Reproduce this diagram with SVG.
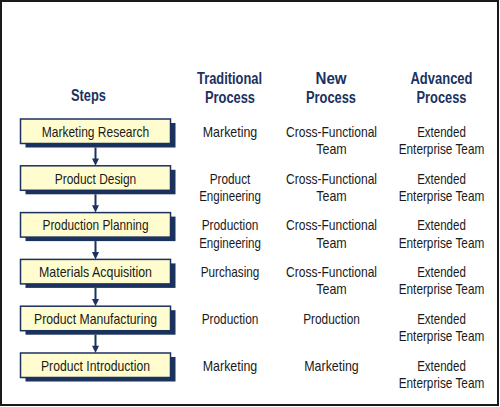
<svg xmlns="http://www.w3.org/2000/svg" width="500" height="407" viewBox="0 0 500 407">
<defs>
<style>
.frame{fill:#ffffff;stroke:#1a1a1a;stroke-width:2}
.shadow{fill:#1b325f}
.box{fill:#fffdcf;stroke:#1b325f;stroke-width:1.5}
.hdr{font-family:"Liberation Sans",Arial,sans-serif;font-weight:bold;font-size:16px;fill:#1b325f;text-anchor:middle}
.lbl{font-family:"Liberation Sans",Arial,sans-serif;font-size:15px;fill:#1a1a1a;text-anchor:middle}
.conn{stroke:#1b325f;stroke-width:2;fill:none}
.head{fill:#1b325f}
</style>
</defs>
<rect class="frame" x="1" y="1" width="497" height="404"/>

<g id="headers">
<text class="hdr" x="88.5" y="101" textLength="35" lengthAdjust="spacingAndGlyphs">Steps</text>
<text class="hdr" x="229.5" y="83.5" textLength="65" lengthAdjust="spacingAndGlyphs">Traditional</text>
<text class="hdr" x="230" y="102.5" textLength="50" lengthAdjust="spacingAndGlyphs">Process</text>
<text class="hdr" x="331" y="83.5" textLength="31" lengthAdjust="spacingAndGlyphs">New</text>
<text class="hdr" x="331" y="102.5" textLength="50" lengthAdjust="spacingAndGlyphs">Process</text>
<text class="hdr" x="441.5" y="83.5" textLength="62" lengthAdjust="spacingAndGlyphs">Advanced</text>
<text class="hdr" x="441.5" y="102.5" textLength="50" lengthAdjust="spacingAndGlyphs">Process</text>
</g>

<g id="connectors">
<line class="conn" x1="95.5" y1="147.5" x2="95.5" y2="159"/>
<polygon class="head" points="92,158.5 99,158.5 95.5,165.8"/>
<line class="conn" x1="95.5" y1="194.3" x2="95.5" y2="205.8"/>
<polygon class="head" points="92,205.3 99,205.3 95.5,212.6"/>
<line class="conn" x1="95.5" y1="241.1" x2="95.5" y2="252.6"/>
<polygon class="head" points="92,252.1 99,252.1 95.5,259.4"/>
<line class="conn" x1="95.5" y1="287.9" x2="95.5" y2="299.4"/>
<polygon class="head" points="92,298.9 99,298.9 95.5,306.2"/>
<line class="conn" x1="95.5" y1="334.7" x2="95.5" y2="346.2"/>
<polygon class="head" points="92,345.7 99,345.7 95.5,353"/>
</g>

<g id="step1">
<rect class="shadow" x="25.5" y="123" width="150" height="24.5"/>
<rect class="box" x="20.5" y="119" width="150" height="24.5"/>
<text class="lbl" x="95.5" y="136.7" textLength="107.5" lengthAdjust="spacingAndGlyphs">Marketing Research</text>
</g>
<g id="step2">
<rect class="shadow" x="25.5" y="169.8" width="150" height="24.5"/>
<rect class="box" x="20.5" y="165.8" width="150" height="24.5"/>
<text class="lbl" x="95.5" y="183.5" textLength="81.5" lengthAdjust="spacingAndGlyphs">Product Design</text>
</g>
<g id="step3">
<rect class="shadow" x="25.5" y="216.6" width="150" height="24.5"/>
<rect class="box" x="20.5" y="212.6" width="150" height="24.5"/>
<text class="lbl" x="95.5" y="230.3" textLength="106" lengthAdjust="spacingAndGlyphs">Production Planning</text>
</g>
<g id="step4">
<rect class="shadow" x="25.5" y="263.4" width="150" height="24.5"/>
<rect class="box" x="20.5" y="259.4" width="150" height="24.5"/>
<text class="lbl" x="95.5" y="277.1" textLength="113" lengthAdjust="spacingAndGlyphs">Materials Acquisition</text>
</g>
<g id="step5">
<rect class="shadow" x="25.5" y="310.2" width="150" height="24.5"/>
<rect class="box" x="20.5" y="306.2" width="150" height="24.5"/>
<text class="lbl" x="95.5" y="323.9" textLength="123" lengthAdjust="spacingAndGlyphs">Product Manufacturing</text>
</g>
<g id="step6">
<rect class="shadow" x="25.5" y="357" width="150" height="24.5"/>
<rect class="box" x="20.5" y="353" width="150" height="24.5"/>
<text class="lbl" x="95.5" y="370.7" textLength="109" lengthAdjust="spacingAndGlyphs">Product Introduction</text>
</g>

<g id="traditional">
<text class="lbl" x="230" y="136.7" textLength="54.5" lengthAdjust="spacingAndGlyphs">Marketing</text>
<text class="lbl" x="230" y="183.5" textLength="40.7" lengthAdjust="spacingAndGlyphs">Product</text>
<text class="lbl" x="230" y="200.8" textLength="61.7" lengthAdjust="spacingAndGlyphs">Engineering</text>
<text class="lbl" x="230" y="230.3" textLength="56.7" lengthAdjust="spacingAndGlyphs">Production</text>
<text class="lbl" x="230" y="247.6" textLength="61.7" lengthAdjust="spacingAndGlyphs">Engineering</text>
<text class="lbl" x="230" y="277.1" textLength="58.7" lengthAdjust="spacingAndGlyphs">Purchasing</text>
<text class="lbl" x="230" y="323.9" textLength="56.7" lengthAdjust="spacingAndGlyphs">Production</text>
<text class="lbl" x="230" y="370.7" textLength="54.5" lengthAdjust="spacingAndGlyphs">Marketing</text>
</g>

<g id="new">
<text class="lbl" x="331.5" y="136.7" textLength="91" lengthAdjust="spacingAndGlyphs">Cross-Functional</text>
<text class="lbl" x="331.5" y="154" textLength="30.5" lengthAdjust="spacingAndGlyphs">Team</text>
<text class="lbl" x="331.5" y="183.5" textLength="91" lengthAdjust="spacingAndGlyphs">Cross-Functional</text>
<text class="lbl" x="331.5" y="200.8" textLength="30.5" lengthAdjust="spacingAndGlyphs">Team</text>
<text class="lbl" x="331.5" y="230.3" textLength="91" lengthAdjust="spacingAndGlyphs">Cross-Functional</text>
<text class="lbl" x="331.5" y="247.6" textLength="30.5" lengthAdjust="spacingAndGlyphs">Team</text>
<text class="lbl" x="331.5" y="277.1" textLength="91" lengthAdjust="spacingAndGlyphs">Cross-Functional</text>
<text class="lbl" x="331.5" y="294.4" textLength="30.5" lengthAdjust="spacingAndGlyphs">Team</text>
<text class="lbl" x="331.5" y="323.9" textLength="56.7" lengthAdjust="spacingAndGlyphs">Production</text>
<text class="lbl" x="331.5" y="370.7" textLength="54.5" lengthAdjust="spacingAndGlyphs">Marketing</text>
</g>

<g id="advanced">
<text class="lbl" x="441.5" y="136.7" textLength="48.7" lengthAdjust="spacingAndGlyphs">Extended</text>
<text class="lbl" x="441.5" y="154" textLength="85.6" lengthAdjust="spacingAndGlyphs">Enterprise Team</text>
<text class="lbl" x="441.5" y="183.5" textLength="48.7" lengthAdjust="spacingAndGlyphs">Extended</text>
<text class="lbl" x="441.5" y="200.8" textLength="85.6" lengthAdjust="spacingAndGlyphs">Enterprise Team</text>
<text class="lbl" x="441.5" y="230.3" textLength="48.7" lengthAdjust="spacingAndGlyphs">Extended</text>
<text class="lbl" x="441.5" y="247.6" textLength="85.6" lengthAdjust="spacingAndGlyphs">Enterprise Team</text>
<text class="lbl" x="441.5" y="277.1" textLength="48.7" lengthAdjust="spacingAndGlyphs">Extended</text>
<text class="lbl" x="441.5" y="294.4" textLength="85.6" lengthAdjust="spacingAndGlyphs">Enterprise Team</text>
<text class="lbl" x="441.5" y="323.9" textLength="48.7" lengthAdjust="spacingAndGlyphs">Extended</text>
<text class="lbl" x="441.5" y="341.2" textLength="85.6" lengthAdjust="spacingAndGlyphs">Enterprise Team</text>
<text class="lbl" x="441.5" y="370.7" textLength="48.7" lengthAdjust="spacingAndGlyphs">Extended</text>
<text class="lbl" x="441.5" y="388" textLength="85.6" lengthAdjust="spacingAndGlyphs">Enterprise Team</text>
</g>
</svg>
